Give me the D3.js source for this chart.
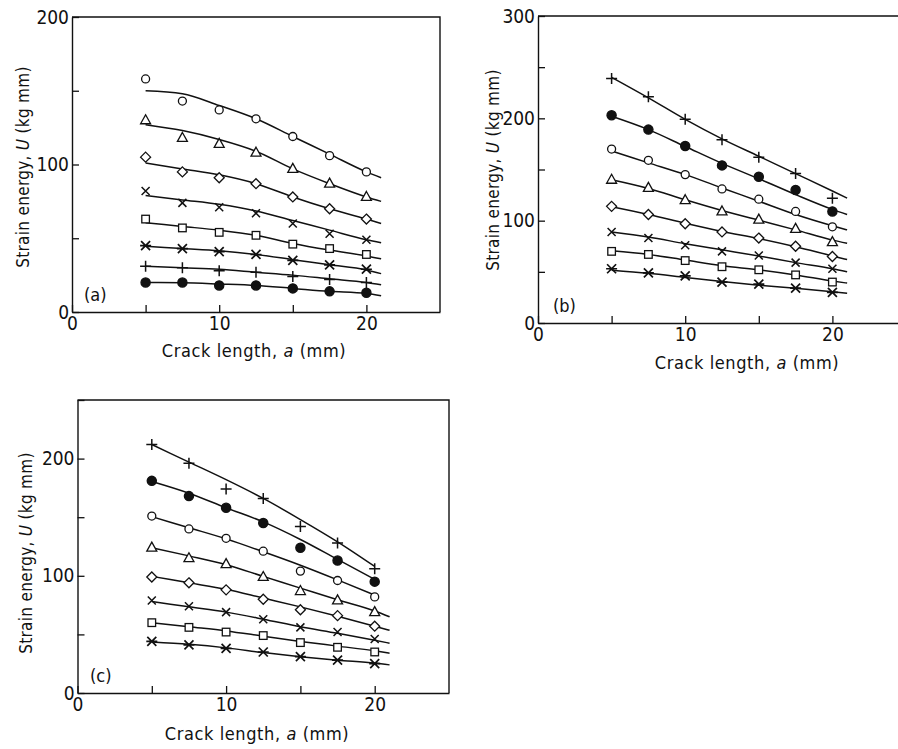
<!DOCTYPE html>
<html><head><meta charset="utf-8">
<script src="https://cdn.jsdelivr.net/npm/d3@7"></script>
<style>
body{margin:0;background:#fff}
text{font-family:"DejaVu Sans Condensed","DejaVu Sans",sans-serif;fill:#111}
</style>
</head><body>
<svg id="chart" width="898" height="749"></svg>
<script>
// ---------- data ----------
const crackLengths = [5, 7.5, 10, 12.5, 15, 17.5, 20];
const fitLengths   = [5, 7.5, 10, 12.5, 15, 17.5, 20, 21];

const xTickValues = [0, 5, 10, 15, 20];
const xTickLabels = [0, 10, 20];
const yTickValuesA = [0, 50, 100, 150, 200];
const yTickLabelsA = [0, 100, 200];
const yTickValuesB = [0, 50, 100, 150, 200, 250, 300];
const yTickLabelsB = [0, 100, 200, 300];
const yTickValuesC = [0, 50, 100, 150, 200, 250];
const yTickLabelsC = [0, 100, 200];

// panel (a) measured points
const aCircle   = [158, 143, 137, 131, 119, 106, 95];
const aTriangle = [130, 118, 114, 108, 97, 87, 78];
const aDiamond  = [105, 95, 91, 87, 78, 70, 63];
const aCross    = [82, 74, 71, 67, 60, 53, 49];
const aSquare   = [63, 57, 54, 52, 46, 43, 39];
const aAster    = [45, 43, 41, 39, 35, 32, 29];
const aPlus     = [31, 30, 28, 27, 24, 22, 20];
const aDot      = [20, 20, 18, 18, 16, 14, 13];
// panel (a) fitted curves
const aCircleFit   = [150, 148, 140, 131, 119, 107, 95, 91];
const aTriangleFit = [127, 123, 117, 109, 97, 87, 78, 75];
const aDiamondFit  = [101, 97, 93, 87, 78, 70, 63, 60];
const aCrossFit    = [79, 76, 73, 68.5, 62, 55.5, 49, 47];
const aSquareFit   = [60.5, 58, 55.5, 52, 46.5, 42, 38, 36];
const aAsterFit    = [44.5, 43, 41.5, 39, 35.5, 32, 28.5, 26];
const aPlusFit     = [31, 30, 29, 27, 25, 22.5, 20, 18.5];
const aDotFit      = [20, 19.8, 19, 18, 16, 14, 12.5, 11];

// panel (b) measured points
const bPlus     = [239, 221, 199, 179, 162, 146, 122];
const bDot      = [203, 189, 173, 154, 143, 130, 109];
const bCircle   = [170, 159, 145, 131, 121, 109, 94];
const bTriangle = [140, 132, 120, 109, 101, 92, 79];
const bDiamond  = [114, 106, 97, 89, 83, 75, 65];
const bCross    = [89, 83, 76, 70, 66, 59, 53];
const bSquare   = [70, 67, 61, 55, 52, 47, 40];
const bAster    = [53, 49, 46, 40, 38, 34, 30];
// panel (b) fitted curves
const bPlusFit     = [240, 220, 199, 180, 163, 146, 129, 122];
const bDotFit      = [202, 189, 172.5, 156, 141, 125.5, 111, 106];
const bCircleFit   = [168, 156.5, 145, 132, 119, 106, 95, 91];
const bTriangleFit = [140, 131.5, 120.5, 110, 100.5, 91, 81, 78];
const bDiamondFit  = [113.5, 106, 97.5, 89.5, 82.5, 74.5, 65.5, 62];
const bCrossFit    = [89, 84, 77.5, 71.5, 65.5, 59, 53, 50];
const bSquareFit   = [70.5, 67, 61.5, 56, 52, 47, 41, 39];
const bAsterFit    = [51.5, 48.5, 44.5, 40.5, 37, 34, 30.5, 29];

// panel (c) measured points
const cPlus     = [212, 196, 174, 166, 142, 128, 106];
const cDot      = [181, 168, 158, 145, 124, 113, 95];
const cCircle   = [151, 140, 132, 121, 104, 96, 82];
const cTriangle = [124, 115, 110, 99, 87, 79, 69];
const cDiamond  = [99, 94, 88, 80, 71, 66, 57];
const cCross    = [79, 74, 69, 63, 56, 52, 46];
const cSquare   = [60, 56, 52, 49, 43, 39, 35];
const cAster    = [44, 41, 38, 35, 31, 28, 25];
// panel (c) fitted curves (null = curve stops at 20)
const cPlusFit     = [212, 197, 182, 166, 148, 129, 108, null];
const cDotFit      = [180.5, 170.5, 158, 146, 131, 114, 97, null];
const cCircleFit   = [150.5, 141, 131.5, 120.5, 109, 96.5, 83.5, null];
const cTriangleFit = [124, 117, 109.5, 99.5, 89.5, 79.5, 70, 65];
const cDiamondFit  = [99.5, 94, 88.5, 81, 73.5, 65.5, 57, 53.5];
const cCrossFit    = [78, 73.5, 69, 63, 56.5, 51, 45, 42.5];
const cSquareFit   = [60, 56.5, 53, 48.5, 44, 40, 36, 34];
const cAsterFit    = [43.5, 41.5, 38.5, 34.5, 31, 28, 25.5, 24];

// ---------- panels ----------
const panels = [
  {label: "(a)", x0: 72, x1: 440, yb: 312, yt: 17, yMax: 200,
   yTicks: yTickValuesA, yLabels: yTickLabelsA,
   ytx: 24, yty: 167, xtx: 254, xty: 357, lx: 84, ly: 301,
   series: [
     ["circle", aCircle, aCircleFit], ["triangle", aTriangle, aTriangleFit],
     ["diamond", aDiamond, aDiamondFit], ["cross", aCross, aCrossFit],
     ["square", aSquare, aSquareFit], ["aster", aAster, aAsterFit],
     ["plus", aPlus, aPlusFit], ["dot", aDot, aDotFit]]},
  {label: "(b)", x0: 538, x1: 906, yb: 323, yt: 16, yMax: 300,
   yTicks: yTickValuesB, yLabels: yTickLabelsB,
   ytx: 494, yty: 170, xtx: 747, xty: 369, lx: 553, ly: 312,
   series: [
     ["plus", bPlus, bPlusFit], ["dot", bDot, bDotFit],
     ["circle", bCircle, bCircleFit], ["triangle", bTriangle, bTriangleFit],
     ["diamond", bDiamond, bDiamondFit], ["cross", bCross, bCrossFit],
     ["square", bSquare, bSquareFit], ["aster", bAster, bAsterFit]]},
  {label: "(c)", x0: 77.5, x1: 449, yb: 693, yt: 400, yMax: 250,
   yTicks: yTickValuesC, yLabels: yTickLabelsC,
   ytx: 27, yty: 553, xtx: 257, xty: 740, lx: 90, ly: 682,
   series: [
     ["plus", cPlus, cPlusFit], ["dot", cDot, cDotFit],
     ["circle", cCircle, cCircleFit], ["triangle", cTriangle, cTriangleFit],
     ["diamond", cDiamond, cDiamondFit], ["cross", cCross, cCrossFit],
     ["square", cSquare, cSquareFit], ["aster", cAster, cAsterFit]]}
];

const svg = d3.select("#chart");

function drawMarker(g, type, cx, cy) {
  const s = g.append("g").attr("transform", `translate(${cx},${cy})`)
    .attr("stroke", "#111").attr("stroke-width", 1.3).attr("fill", "none");
  if (type === "circle") s.append("circle").attr("r", 4).attr("fill", "#fff");
  else if (type === "dot") s.append("circle").attr("r", 4.6).attr("fill", "#111");
  else if (type === "triangle") s.append("path").attr("d", "M0,-5.5L5,3.5L-5,3.5Z").attr("fill", "#fff");
  else if (type === "diamond") s.append("path").attr("d", "M0,-5L5,0L0,5L-5,0Z").attr("fill", "#fff");
  else if (type === "square") s.append("rect").attr("x", -3.8).attr("y", -3.8).attr("width", 7.6).attr("height", 7.6).attr("fill", "#fff");
  else if (type === "cross") s.append("path").attr("d", "M-4,-4L4,4M4,-4L-4,4").attr("stroke-width", 1.5);
  else if (type === "plus") s.append("path").attr("d", "M-5.5,0H5.5M0,-5.5V5.5").attr("stroke-width", 1.5);
  else if (type === "aster") s.append("path").attr("d", "M-4.5,-4.5L4.5,4.5M4.5,-4.5L-4.5,4.5M-5.5,0H5.5").attr("stroke-width", 1.7);
}

panels.forEach(p => {
  const x = d3.scaleLinear().domain([0, 25]).range([p.x0, p.x1]);
  const y = d3.scaleLinear().domain([0, p.yMax]).range([p.yb, p.yt]);
  const g = svg.append("g");

  // frame (top & right)
  g.append("path")
    .attr("d", `M${x(0)},${y(p.yMax)}H${x(25)}V${y(0)}`)
    .attr("fill", "none").attr("stroke", "#111").attr("stroke-width", 1.4);

  const xa = g.append("g").attr("transform", `translate(0,${y(0)})`)
    .call(d3.axisBottom(x).tickValues(xTickValues).tickSizeInner(-7).tickSizeOuter(0)
      .tickPadding(4).tickFormat(d => xTickLabels.includes(d) ? d : ""));
  const ya = g.append("g").attr("transform", `translate(${x(0)},0)`)
    .call(d3.axisLeft(y).tickValues(p.yTicks).tickSizeInner(-7).tickSizeOuter(0)
      .tickPadding(4).tickFormat(d => p.yLabels.includes(d) ? d : ""));
  [xa, ya].forEach(a => {
    a.select(".domain").attr("stroke", "#111").attr("stroke-width", 1.4);
    a.selectAll(".tick line").attr("stroke", "#111").attr("stroke-width", 1.3);
    a.selectAll(".tick text").style("font-size", "19px").attr("fill", "#111");
  });
  ya.selectAll(".tick text").attr("x", -3);

  // axis titles
  const yt = g.append("text")
    .attr("transform", `translate(${p.ytx},${p.yty}) rotate(-90)`)
    .attr("text-anchor", "middle").attr("dominant-baseline", "middle")
    .style("font-size", "17px").style("letter-spacing", "0.3px");
  yt.append("tspan").text("Strain energy, ");
  yt.append("tspan").style("font-style", "italic").text("U");
  yt.append("tspan").text(" (kg mm)");

  const xt = g.append("text").attr("x", p.xtx).attr("y", p.xty)
    .attr("text-anchor", "middle").style("font-size", "18px").style("letter-spacing", "0.6px");
  xt.append("tspan").text("Crack length, ");
  xt.append("tspan").style("font-style", "italic").text("a");
  xt.append("tspan").text(" (mm)");

  g.append("text").attr("x", p.lx).attr("y", p.ly)
    .style("font-size", "18px").text(p.label);

  // fitted curves
  const line = d3.line()
    .defined(d => d[1] != null)
    .x(d => x(d[0])).y(d => y(d[1]))
    .curve(d3.curveMonotoneX);
  p.series.forEach(([type, pts, fit]) => {
    g.append("path")
      .attr("d", line(fitLengths.map((xv, i) => [xv, fit[i]])))
      .attr("fill", "none").attr("stroke", "#111").attr("stroke-width", 1.5);
  });
  // points
  p.series.forEach(([type, pts]) => {
    pts.forEach((v, i) => drawMarker(g, type, x(crackLengths[i]), y(v)));
  });
});
</script>
</body></html>
